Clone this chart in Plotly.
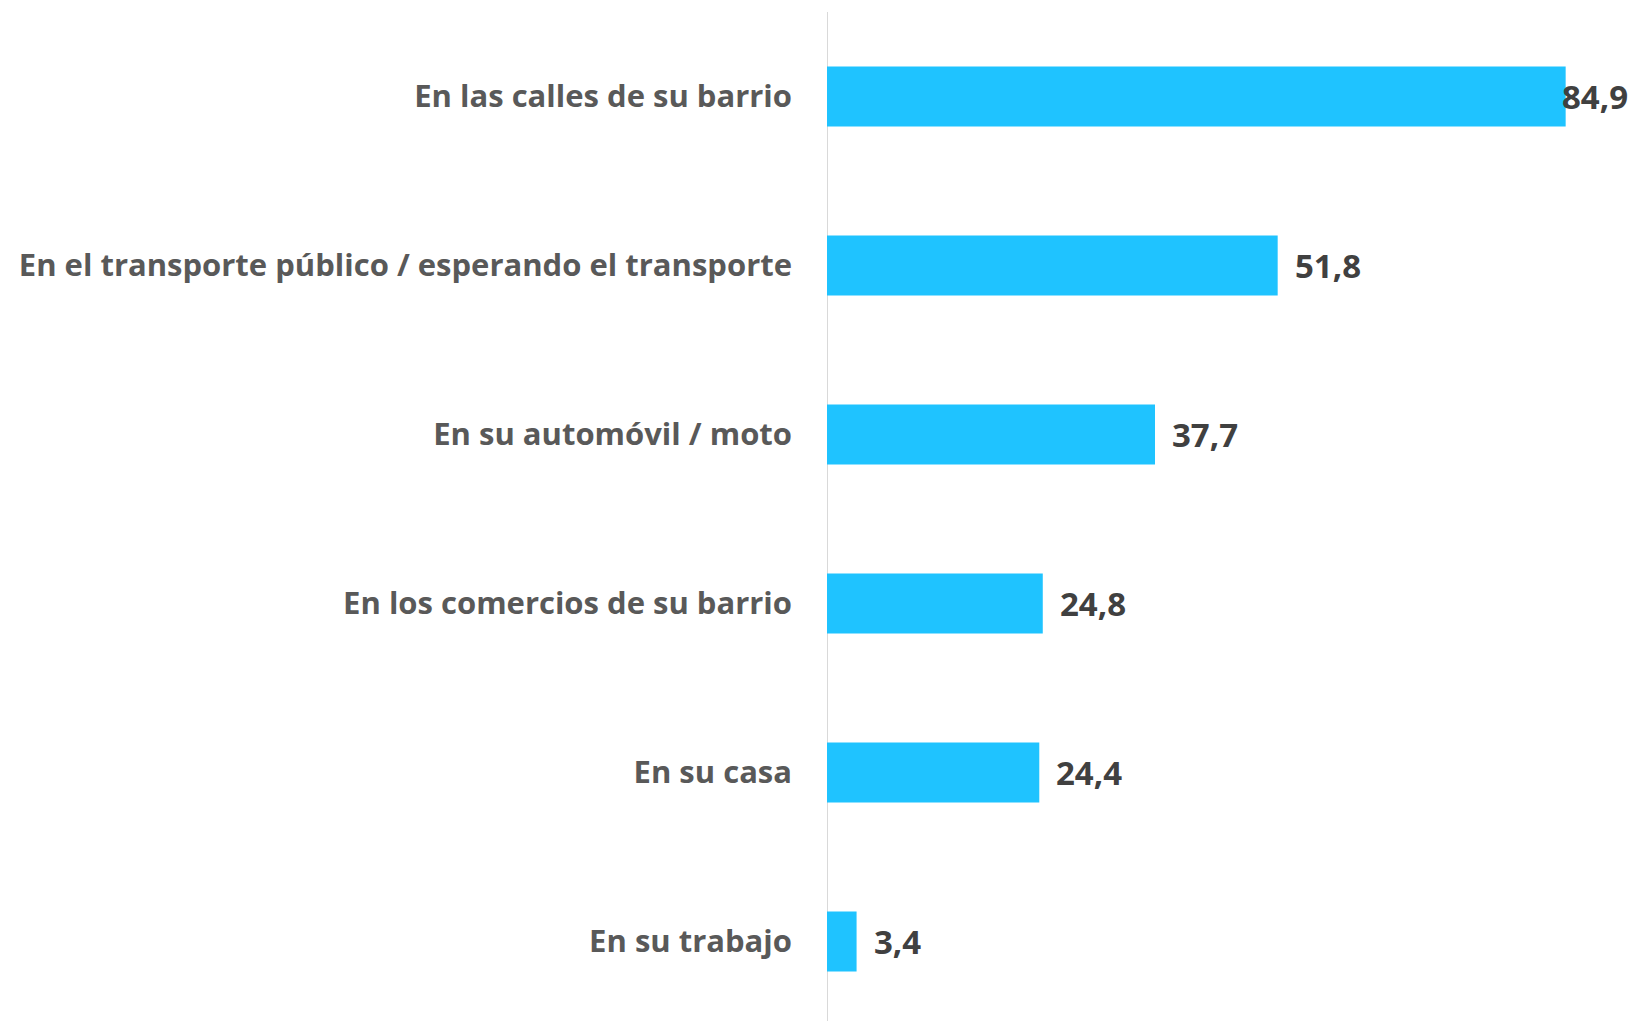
import plotly.graph_objects as go

categories = [
    "En las calles de su barrio",
    "En el transporte público / esperando el transporte",
    "En su automóvil / moto",
    "En los comercios de su barrio",
    "En su casa",
    "En su trabajo",
]
values = [84.9, 51.8, 37.7, 24.8, 24.4, 3.4]
value_labels = ["84,9", "51,8", "37,7", "24,8", "24,4", "3,4"]

# page body has 8px default margin, so the figure is drawn offset by 8px
OFF = 8
W, H = 1637 - OFF, 1021 - OFF
ML, MT = 827 - OFF, 12 - OFF
XMAX = 93.1
SLOT = 169.0
plot_w = W - ML
plot_h = H - MT
y_bottom = -0.5 + plot_h / SLOT

fig = go.Figure()
fig.add_trace(go.Bar(
    x=values, y=categories, orientation="h",
    marker=dict(color="#1FC3FF", line=dict(width=0)),
    width=0.355, hoverinfo="skip",
))

label_font = dict(family="Open Sans", size=33, color="#404040", weight="bold")
for cat, v, lab in zip(categories, values, value_labels):
    end_px = v / XMAX * plot_w
    est_w = 17 * len(lab)
    shift = 15 if end_px + 15 + est_w < plot_w - 10 else -6
    fig.add_annotation(x=v, y=cat, text=lab, xanchor="left", yanchor="middle",
                       showarrow=False, font=label_font, xshift=shift)

fig.update_layout(
    width=W, height=H,
    margin=dict(l=ML, r=0, t=MT, b=0, pad=0),
    plot_bgcolor="white", paper_bgcolor="white",
    showlegend=False,
    xaxis=dict(range=[0, XMAX], visible=False, fixedrange=True),
    yaxis=dict(
        type="category", categoryorder="array", categoryarray=categories,
        range=[y_bottom, -0.5],
        showgrid=False, zeroline=False,
        showline=False,
        ticks="", ticklabelstandoff=34,
        tickfont=dict(family="Open Sans", size=31, color="#595959", weight="bold"),
    ),
    shapes=[dict(type="line", xref="x", yref="paper", x0=0, x1=0, y0=0, y1=1,
                 line=dict(color="#D9D9D9", width=2), layer="below")],
)

fig.write_html("out.html")
